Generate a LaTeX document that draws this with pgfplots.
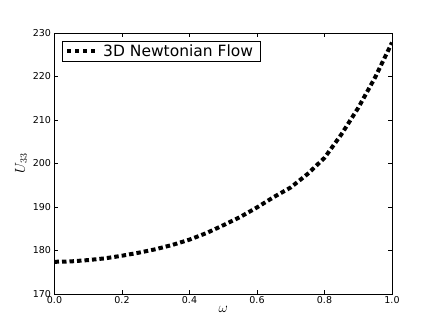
\documentclass[border=0pt]{standalone}
\usepackage{fontspec}
\setmainfont{DejaVu Sans}
\usepackage{pgfplots}
\pgfplotsset{compat=1.18}
\begin{document}
\begin{tikzpicture}
\path (-54.5pt,-33pt) rectangle (381.5pt,294pt);
\begin{axis}[
    at={(0,0)}, anchor=south west,
    scale only axis,
    width=337.5pt, height=261pt,
    xmin=0, xmax=1, ymin=170, ymax=230,
    xtick={0,0.2,...,1.0},
    ytick={170,180,...,230},
    xticklabel style={/pgf/number format/fixed,/pgf/number format/fixed zerofill,/pgf/number format/precision=1, yshift=1.5pt},
    /pgf/number format/assume math mode=true,
    tick align=inside,
    major tick length=4pt,
    tick style={black, line width=0.6pt},
    axis line style={line width=0.8pt},
    ticklabel style={font=\fontsize{9.5}{11}\selectfont},
    xlabel={$\omega$},
    ylabel={$U_{33}$},
    label style={font=\fontsize{14}{16}\selectfont},
    xlabel style={yshift=4pt},
    ylabel style={yshift=-1pt},
    legend style={font=\fontsize{15.5}{17}\selectfont, draw=black, line width=0.6pt,
        at={(0.022,0.9705)}, anchor=north west, inner xsep=3pt, inner ysep=1.5pt,
        nodes={inner xsep=4pt}},
    legend cell align=left,
    legend image code/.code={\draw[#1, dash pattern=on 4pt off 4pt] (0pt,0pt) -- (30pt,0pt);},
]
\addplot[black, line width=4pt, dash pattern=on 4.5pt off 3pt] coordinates {
    (0.00,177.4) (0.05,177.5) (0.10,177.8) (0.15,178.2) (0.20,178.8)
    (0.25,179.5) (0.30,180.3) (0.35,181.3) (0.40,182.5) (0.45,184.0)
    (0.50,185.8) (0.55,187.7) (0.60,189.9) (0.65,192.3) (0.70,194.5)
    (0.75,197.6) (0.80,201.3) (0.85,206.7) (0.90,212.8) (0.95,219.8)
    (1.00,227.8)
};
\addlegendentry{3D Newtonian Flow}
\end{axis}
\end{tikzpicture}
\end{document}
